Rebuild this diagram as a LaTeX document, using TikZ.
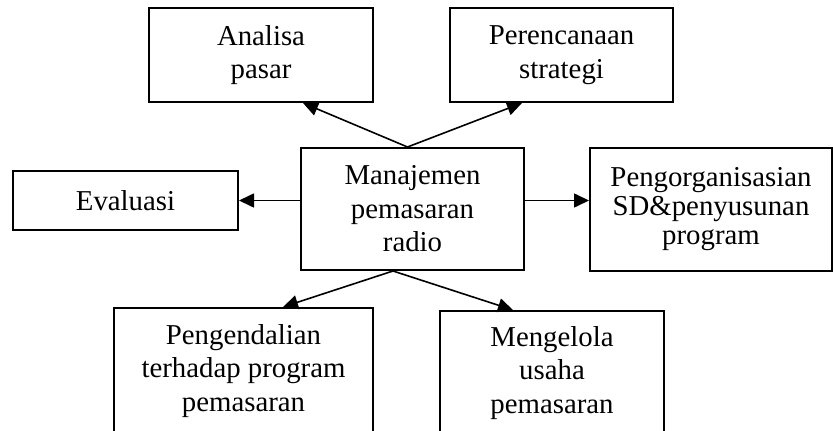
\documentclass[tikz,border=0pt]{standalone}
\usepackage{fontspec}
\setmainfont{Liberation Serif}
\usetikzlibrary{arrows.meta}
\begin{document}
\begin{tikzpicture}[x=1pt,y=-1pt,
  box/.style={draw,line width=2pt,rectangle,inner sep=0pt,align=center,
    font=\fontsize{28.8}{33.5}\selectfont},
  link/.style={line width=1.6pt,-{Triangle[length=15pt,width=14pt]}}]
\useasboundingbox (0,0) rectangle (833,431);
% boxes
\node[box,minimum width=224,minimum height=94] (ana) at (261,55) {Analisa\\pasar};
\node[box,minimum width=223,minimum height=94] (per) at (561.5,55) {Perencanaan\\strategi};
\node[box,minimum width=223,minimum height=122] (man) at (412.5,209) {Manajemen\\pemasaran\\radio};
\node[box,minimum width=225,minimum height=59] (eva) at (125.5,200.5) {Evaluasi};
\node[box,minimum width=242,minimum height=123,
  font=\fontsize{28.8}{29}\selectfont] (org) at (711,209.5) {Pengorganisasian\\SD\&penyusunan\\program};
\node[box,minimum width=259,minimum height=126] (pen) at (243.5,371) {Pengendalian\\terhadap program\\pemasaran};
\node[box,minimum width=224,minimum height=124] (men) at (552,373) {Mengelola\\usaha\\pemasaran};
% connectors
\draw[link] ([xshift=-5pt]man.north) -- ([xshift=42pt]ana.south);
\draw[link] ([xshift=-5pt]man.north) -- ([xshift=-39.5pt]per.south);
\draw[link] (man.west |- eva.east) -- (eva.east);
\draw[link] (man.east |- eva.east) -- (org.west |- eva.east);
\draw[link] ([xshift=-19.5pt]man.south) -- ([xshift=39.5pt]pen.north);
\draw[link] ([xshift=-19.5pt]man.south) -- ([xshift=-39pt]men.north);
\end{tikzpicture}
\end{document}
